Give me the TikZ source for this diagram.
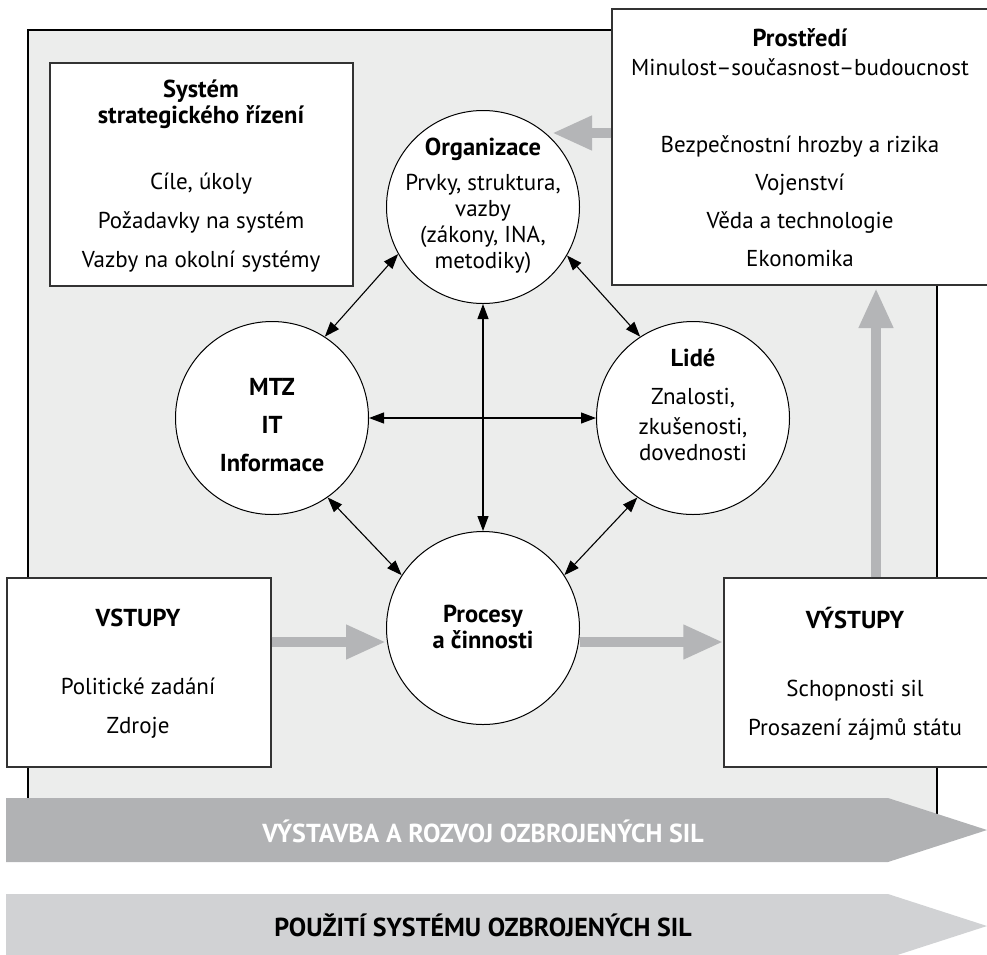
\documentclass[tikz,border=0pt]{standalone}
\usepackage{fontspec}
\setmainfont{PT Sans}
\usetikzlibrary{arrows.meta,calc}

\definecolor{bggray}{HTML}{ECEDEC}
\definecolor{bandgray}{HTML}{B1B2B4}
\definecolor{bandlight}{HTML}{D1D2D4}
\definecolor{arrowgray}{HTML}{B4B5B7}
\definecolor{boxline}{HTML}{333333}

\newcommand{\hd}[1]{{\fontsize{24.5}{26}\selectfont\bfseries #1}}

\tikzset{
  txt/.style={font=\fontsize{23}{26}\selectfont, align=center, inner sep=0pt},
  bandtxt/.style={font=\fontsize{26}{28}\selectfont\bfseries, inner sep=0pt},
  box/.style={draw=boxline, line width=1.4pt, fill=white, inner sep=0pt},
  ball/.style={circle, draw=black, line width=1pt, fill=white, minimum size=193pt, inner sep=0pt},
  dbl/.style={arrows={Triangle[length=15pt,width=11pt]-Triangle[length=15pt,width=11pt]}, line width=1.1pt},
  fatarrow/.style={draw=arrowgray, line width=10pt, arrows={-Triangle[length=40pt,width=32pt]}},
}

\begin{document}
\begin{tikzpicture}[x=1pt,y=-1pt]
\useasboundingbox (0,0) rectangle (987,954);

% system area
\filldraw[fill=bggray, draw=black, line width=1.3pt] (28,30) rectangle (937,830);

% boxes
\node[box, minimum width=303pt, minimum height=223pt] (system) at (201.5,174.5) {};
\node[box, minimum width=378pt, minimum height=276pt] (prostredi) at (801,147) {};
\node[box, minimum width=264pt, minimum height=189pt] (vstupy) at (139,672.5) {};
\node[box, minimum width=266pt, minimum height=189pt] (vystupy) at (857,672.5) {};

% circles
\node[ball] (org) at (483,207) {};
\node[ball] (mtz) at (272,418) {};
\node[ball] (lide) at (693,418) {};
\node[ball] (procesy) at (483,628) {};

% texts
\node[txt] (systemtxt) at (201,176) {\hd{Systém}\\\hd{strategického řízení}\\[40pt]Cíle, úkoly\\[13pt]Požadavky na systém\\[13pt]Vazby na okolní systémy};
\node[txt] (prostreditxt) at (800,147.5) {\hd{Prostředí}\\[3pt]Minulost–současnost–budoucnost\\[51pt]Bezpečnostní hrozby a rizika\\[12pt]Vojenství\\[12pt]Věda a technologie\\[12pt]Ekonomika};
\node[txt] (orgtxt) at (483,206) {\hd{Organizace}\\[9pt]Prvky, struktura,\\vazby\\(zákony, INA,\\metodiky)};
\node[txt] (mtztxt) at (272,425) {\hd{MTZ}\\[12pt]\hd{IT}\\[12pt]\hd{Informace}};
\node[txt] (lidetxt) at (693,405) {\hd{Lidé}\\[12pt]Znalosti,\\[4pt]zkušenosti,\\dovednosti};
\node[txt] (procesytxt) at (483,627) {\hd{Procesy}\\\hd{a činnosti}};
\node[txt] (vstupytxt) at (138,673.5) {\hd{VSTUPY}\\[42pt]Politické zadání\\[13pt]Zdroje};
\node[txt] (vystupytxt) at (855,673.5) {\hd{VÝSTUPY}\\[42pt]Schopnosti sil\\[13pt]Prosazení zájmů státu};

% links between circles
\draw[dbl] (org.209) -- (mtz.57);
\draw[dbl] (org.330) -- (lide.123);
\draw[dbl] (mtz.305) -- (procesy.147);
\draw[dbl] (lide.235) -- (procesy.33);
\draw[dbl] (mtz) -- (lide);
\draw[dbl] (org) -- (procesy);

% flows
\coordinate (orgtip) at (552,133);
\coordinate (envtip) at (876,288);
\draw[fatarrow] ($(vstupy.east)+(0,-30.5)$) -- ($(procesy.west)+(0,14)$);
\draw[fatarrow] ($(procesy.east)+(0,14)$) -- ($(vystupy.west)+(0,-30.5)$);
\draw[fatarrow] (vystupy.north -| envtip) -- (envtip);
\draw[fatarrow] ($(prostredi.west)+(0,-14)$) -- (orgtip);

% bands
\fill[bandgray] (6,798) -- (888,798) -- (987,830) -- (888,862) -- (6,862) -- cycle;
\fill[bandlight] (6,894) -- (888,894) -- (987,926) -- (888,958) -- (6,958) -- cycle;
\node[bandtxt, text=white] (band1txt) at (483,831) {VÝSTAVBA A ROZVOJ OZBROJENÝCH SIL};
\node[bandtxt] (band2txt) at (483,925) {POUŽITÍ SYSTÉMU OZBROJENÝCH SIL};

\end{tikzpicture}
\end{document}
